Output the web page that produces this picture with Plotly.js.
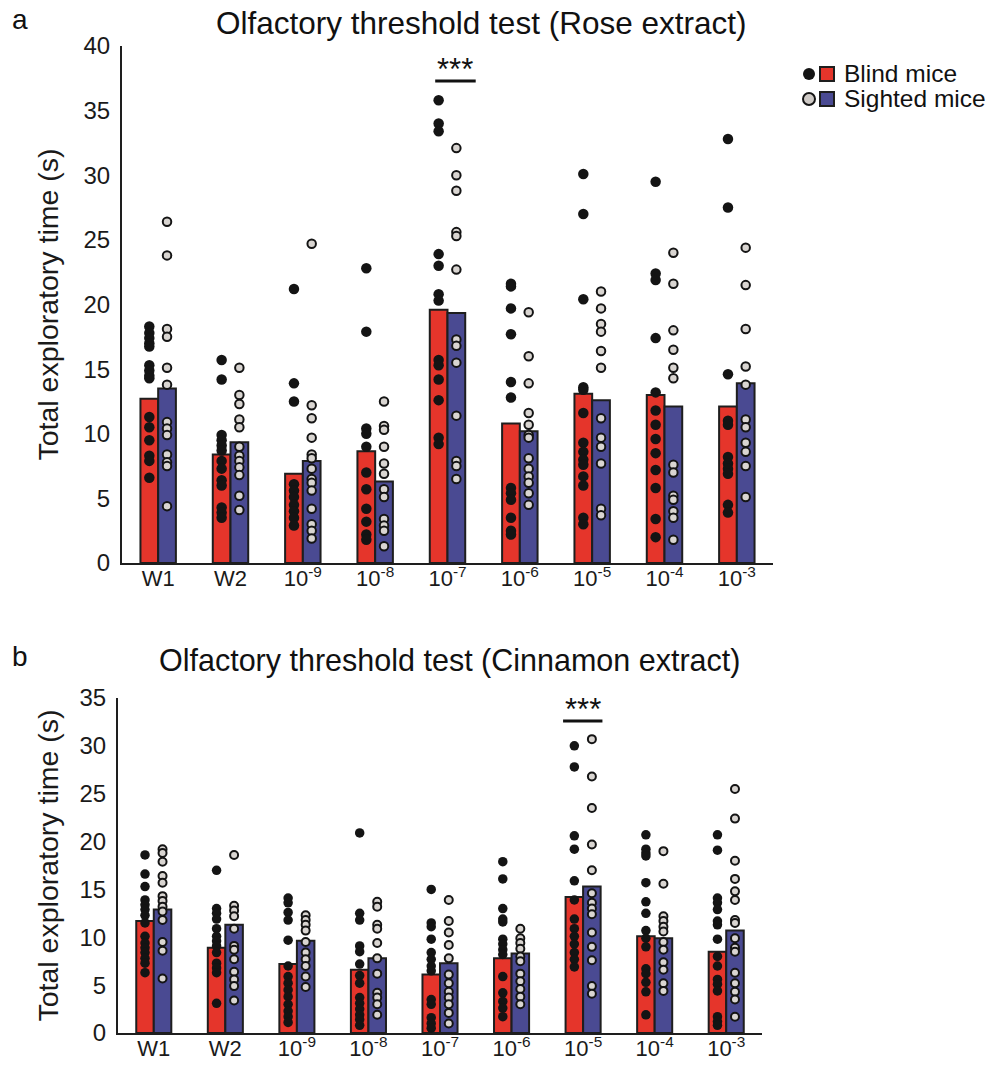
<!DOCTYPE html>
<html>
<head>
<meta charset="utf-8">
<script src="https://cdn.plot.ly/plotly-3.0.1.min.js"></script>
<style>html,body{margin:0;padding:0;background:#fff;}#chart{width:997px;height:1066px;}</style>
</head>
<body>
<div id="chart"></div>
<script>
// ---------- DATA ----------
const categories = ['W1', 'W2', '10<sup>-9</sup>', '10<sup>-8</sup>', '10<sup>-7</sup>', '10<sup>-6</sup>', '10<sup>-5</sup>', '10<sup>-4</sup>', '10<sup>-3</sup>'];
const seriesNames = ['Blind mice', 'Sighted mice'];

// Panel a: Rose extract
const roseBlindMean   = [12.7, 8.4, 6.9, 8.65, 19.6, 10.8, 13.1, 13.0, 12.1];
const roseSightedMean = [13.5, 9.35, 7.9, 6.3, 19.35, 10.2, 12.6, 12.1, 13.9];
const roseBlindPts = [
  [18.3, 17.8, 17.4, 17.0, 16.75, 15.3, 14.9, 14.5, 14.3, 11.3, 10.5, 9.5, 8.3, 7.9, 6.6],
  [15.7, 14.2, 9.9, 9.5, 9.1, 8.7, 7.9, 7.3, 6.4, 6.0, 4.3, 3.9, 3.5],
  [21.2, 13.9, 12.5, 6.1, 5.6, 5.1, 4.5, 4.0, 3.5, 2.9],
  [22.8, 17.9, 10.4, 10.0, 9.0, 7.0, 5.7, 4.2, 3.2, 2.2, 1.8],
  [35.8, 34.0, 33.4, 23.9, 23.0, 20.8, 20.3, 15.7, 15.3, 14.2, 12.6, 9.7, 9.2],
  [21.6, 21.4, 19.7, 17.7, 14.0, 12.8, 5.8, 5.4, 4.9, 3.5, 2.5, 2.2],
  [30.1, 27.0, 20.4, 13.6, 13.4, 11.6, 9.3, 8.6, 8.0, 7.6, 6.7, 6.0, 3.5, 3.0],
  [29.5, 22.4, 21.9, 17.4, 13.2, 11.8, 10.7, 9.6, 8.5, 7.2, 5.8, 3.4, 2.0],
  [32.8, 27.5, 14.6, 11.0, 10.7, 8.2, 7.7, 7.3, 6.9, 4.5, 3.9]
];
const roseSightedPts = [
  [26.4, 23.8, 18.1, 17.5, 15.1, 13.8, 10.9, 10.4, 9.9, 8.4, 7.8, 7.5, 4.4],
  [15.1, 13.0, 12.3, 11.1, 10.5, 9.0, 8.3, 7.9, 7.4, 6.8, 5.2, 4.1],
  [24.7, 12.2, 11.2, 9.7, 8.4, 8.1, 7.3, 6.5, 6.2, 5.6, 4.2, 3.0, 2.5, 1.9],
  [12.5, 10.6, 10.3, 9.0, 7.7, 6.9, 5.7, 5.1, 3.4, 2.9, 2.5, 1.3],
  [32.1, 30.0, 28.8, 25.6, 25.3, 22.7, 17.3, 16.8, 15.5, 11.4, 7.9, 7.5, 6.5],
  [19.4, 16.0, 13.9, 11.6, 10.7, 9.9, 9.7, 8.1, 7.3, 6.7, 6.2, 5.4, 4.5],
  [21.0, 19.7, 18.5, 17.9, 16.4, 15.1, 11.2, 9.7, 9.0, 7.7, 4.2, 3.7],
  [24.0, 21.6, 18.0, 16.5, 15.1, 14.3, 7.6, 7.0, 5.2, 4.9, 4.0, 3.5, 1.8],
  [24.4, 21.5, 18.1, 15.2, 13.8, 11.1, 10.5, 9.3, 8.6, 7.5, 5.1]
];

// Panel b: Cinnamon extract
const cinBlindMean   = [11.7, 8.9, 7.2, 6.6, 6.1, 7.8, 14.2, 10.1, 8.5];
const cinSightedMean = [12.9, 11.3, 9.65, 7.8, 7.3, 8.3, 15.3, 9.9, 10.7];
const cinBlindPts = [
  [18.6, 16.6, 15.3, 13.9, 13.4, 12.9, 12.3, 11.5, 10.1, 9.4, 8.9, 8.4, 7.8, 7.3, 6.3],
  [17.0, 13.0, 12.5, 11.9, 10.9, 10.1, 9.6, 9.1, 8.4, 7.3, 6.8, 6.3, 3.1],
  [14.1, 13.6, 12.6, 11.8, 9.7, 7.0, 5.9, 5.2, 4.5, 3.8, 3.0, 2.3, 1.7, 1.1],
  [20.9, 12.5, 11.8, 9.1, 8.5, 7.2, 6.0, 5.2, 3.7, 3.1, 2.5, 1.9, 1.4, 0.8],
  [15.0, 11.5, 11.1, 9.8, 8.4, 7.7, 7.0, 6.5, 3.5, 3.0, 1.6, 1.0, 0.5],
  [17.9, 16.1, 13.0, 11.9, 11.6, 9.8, 9.3, 8.7, 8.2, 5.9, 4.2, 3.3, 2.6, 1.7],
  [30.0, 27.8, 20.6, 19.2, 15.9, 13.9, 11.9, 10.9, 10.1, 9.3, 8.4, 7.7, 6.9],
  [20.7, 19.2, 18.8, 18.5, 15.7, 13.7, 12.5, 10.7, 9.9, 9.0, 6.7, 6.2, 5.3, 4.3, 1.9],
  [20.7, 19.1, 14.1, 13.6, 12.9, 11.7, 11.3, 9.8, 8.0, 7.0, 5.6, 5.1, 4.4, 1.7, 1.2, 0.8]
];
const cinSightedPts = [
  [19.2, 18.8, 17.9, 16.4, 15.7, 14.3, 13.8, 13.2, 12.7, 11.8, 9.5, 8.6, 5.7],
  [18.6, 13.3, 12.8, 12.2, 10.9, 9.1, 8.7, 7.7, 6.4, 5.6, 4.9, 3.4],
  [12.3, 11.8, 11.3, 10.7, 9.5, 8.4, 7.7, 7.0, 5.9, 4.8],
  [13.7, 13.2, 11.3, 10.9, 9.4, 7.8, 6.2, 4.2, 3.7, 3.0, 1.9],
  [13.9, 11.7, 10.5, 9.2, 7.8, 6.1, 5.2, 4.3, 3.7, 3.0, 2.1, 1.0],
  [10.9, 9.9, 9.4, 8.8, 8.0, 7.5, 6.2, 5.4, 4.6, 3.8, 3.0],
  [30.7, 26.8, 23.5, 19.7, 17.0, 14.6, 13.6, 13.0, 12.4, 10.5, 9.0, 7.6, 4.9, 4.1],
  [19.0, 15.6, 12.2, 11.7, 11.1, 10.6, 9.5, 8.7, 7.4, 6.6, 5.2, 4.4],
  [25.5, 22.4, 18.0, 16.1, 14.8, 13.9, 11.8, 11.5, 9.9, 8.9, 8.5, 6.3, 5.2, 4.3, 3.5, 1.7]
];

const panelTitles = ['Olfactory threshold test (Rose extract)', 'Olfactory threshold test (Cinnamon extract)'];
const panelLetters = ['a', 'b'];
const yTitle = 'Total exploratory time (s)';
const sigText = '***';
const sigCategory = [4, 6];
const sigLevel = [37.3, 32.6];

// ---------- STYLE ----------
const RED = '#E5352B';
const BLUE = '#4A4A92';
const EDGE = '#1e1e1e';
const FONT = 'Liberation Sans, Arial, sans-serif';
const BW = 0.245;

const idx = categories.map((_, i) => i);

function panelTraces(blindMean, sightedMean, blindPts, sightedPts, xa, ya, dotB, dotS) {
  const t = [];
  t.push({type: 'bar', x: idx, y: blindMean, width: BW, offset: -BW, xaxis: xa, yaxis: ya,
          marker: {color: RED, line: {color: EDGE, width: 2}}, showlegend: false, hoverinfo: 'skip'});
  t.push({type: 'bar', x: idx, y: sightedMean, width: BW, offset: 0, xaxis: xa, yaxis: ya,
          marker: {color: BLUE, line: {color: EDGE, width: 2}}, showlegend: false, hoverinfo: 'skip'});
  const bx = [], by = [], sx = [], sy = [];
  blindPts.forEach((arr, i) => arr.forEach(v => { bx.push(i - BW / 2); by.push(v); }));
  sightedPts.forEach((arr, i) => arr.forEach(v => { sx.push(i + BW / 2); sy.push(v); }));
  t.push({type: 'scatter', mode: 'markers', x: bx, y: by, xaxis: xa, yaxis: ya, cliponaxis: false,
          marker: {color: '#141414', size: dotB, line: {width: 0}}, showlegend: false, hoverinfo: 'skip'});
  t.push({type: 'scatter', mode: 'markers', x: sx, y: sy, xaxis: xa, yaxis: ya, cliponaxis: false,
          marker: {color: '#d9d5d1', size: dotS, line: {color: '#141414', width: 2}}, showlegend: false, hoverinfo: 'skip'});
  return t;
}

const data = [
  ...panelTraces(roseBlindMean, roseSightedMean, roseBlindPts, roseSightedPts, 'x', 'y', 10.5, 8.5),
  ...panelTraces(cinBlindMean, cinSightedMean, cinBlindPts, cinSightedPts, 'x2', 'y2', 9.5, 8)
];

const W = 997, H = 1066;
const px = v => v / W;
const py = v => 1 - v / H;

function xAxis(d0, d1, anchor) {
  return {domain: [px(d0), px(d1)], range: [-0.5, 8.5], anchor: anchor, tickmode: 'array',
          tickvals: idx, ticktext: categories, showline: true, linecolor: EDGE, linewidth: 2,
          ticks: '', showgrid: false, zeroline: false, ticklabelstandoff: -5,
          tickfont: {family: FONT, size: 22, color: '#1a1a1a'}, fixedrange: true};
}
function yAxis(d0, d1, anchor, maxV, titleGap) {
  return {domain: [py(d1), py(d0)], range: [0, maxV], anchor: anchor, dtick: 5, showline: true,
          linecolor: EDGE, linewidth: 2, ticks: '', showgrid: false, zeroline: false, ticklabelstandoff: 5,
          tickfont: {family: FONT, size: 24, color: '#1a1a1a'},
          title: {text: yTitle, font: {family: FONT, size: 28.5, color: '#1a1a1a'}, standoff: titleGap}, fixedrange: true};
}

const shapes = [];
const annotations = [];
// significance markers
[['x', 'y', -0.17, 0.39], ['x2', 'y2', -0.28, 0.27]].forEach((r, k) => {
  shapes.push({type: 'line', xref: r[0], yref: r[1], x0: sigCategory[k] + r[2], x1: sigCategory[k] + r[3],
               y0: sigLevel[k], y1: sigLevel[k], line: {color: '#111', width: 3}});
  annotations.push({xref: r[0], yref: r[1], x: sigCategory[k] + (r[2] + r[3]) / 2, y: sigLevel[k],
                    yanchor: 'bottom', yshift: -8, showarrow: false, text: sigText,
                    font: {family: FONT, size: 31, color: '#111'}});
});
// titles and panel letters
annotations.push({xref: 'paper', yref: 'paper', x: px(481), y: py(23), xanchor: 'center', yanchor: 'middle',
                  showarrow: false, text: panelTitles[0], font: {family: FONT, size: 31.5, color: '#111'}});
annotations.push({xref: 'paper', yref: 'paper', x: px(449), y: py(660), xanchor: 'center', yanchor: 'middle',
                  showarrow: false, text: panelTitles[1], font: {family: FONT, size: 30.5, color: '#111'}});
annotations.push({xref: 'paper', yref: 'paper', x: px(10), y: py(20), xanchor: 'left', yanchor: 'middle',
                  showarrow: false, text: panelLetters[0], font: {family: FONT, size: 28, color: '#111'}});
annotations.push({xref: 'paper', yref: 'paper', x: px(10), y: py(656), xanchor: 'left', yanchor: 'middle',
                  showarrow: false, text: panelLetters[1], font: {family: FONT, size: 28, color: '#111'}});
// legend
const legRows = [[74, '#141414', 0, RED], [99, '#cfcac6', 2, BLUE]];
legRows.forEach((r, k) => {
  const cy = r[0];
  shapes.push({type: 'circle', xref: 'paper', yref: 'paper', x0: px(803), x1: px(815), y0: py(cy + 6), y1: py(cy - 6),
               fillcolor: r[1], line: {color: '#141414', width: r[2]}});
  shapes.push({type: 'rect', xref: 'paper', yref: 'paper', x0: px(820), x1: px(834), y0: py(cy + 7), y1: py(cy - 7),
               fillcolor: r[3], line: {color: '#1e1e1e', width: 2}});
  annotations.push({xref: 'paper', yref: 'paper', x: px(842), y: py(cy), xanchor: 'left', yanchor: 'middle',
                    showarrow: false, text: seriesNames[k], font: {family: FONT, size: 24.5, color: '#111'}});
});

const layout = {
  width: W, height: H, margin: {l: 0, r: 0, t: 0, b: 0}, paper_bgcolor: '#fff', plot_bgcolor: 'rgba(0,0,0,0)',
  showlegend: false, barmode: 'overlay',
  xaxis: xAxis(122, 773, 'y'),
  yaxis: yAxis(46, 563, 'x', 40, 17),
  xaxis2: xAxis(118, 762, 'y2'),
  yaxis2: yAxis(698, 1033, 'x2', 35, 13),
  shapes: shapes, annotations: annotations, font: {family: FONT}
};

Plotly.newPlot('chart', data, layout, {displayModeBar: false, staticPlot: true});
</script>
</body>
</html>
